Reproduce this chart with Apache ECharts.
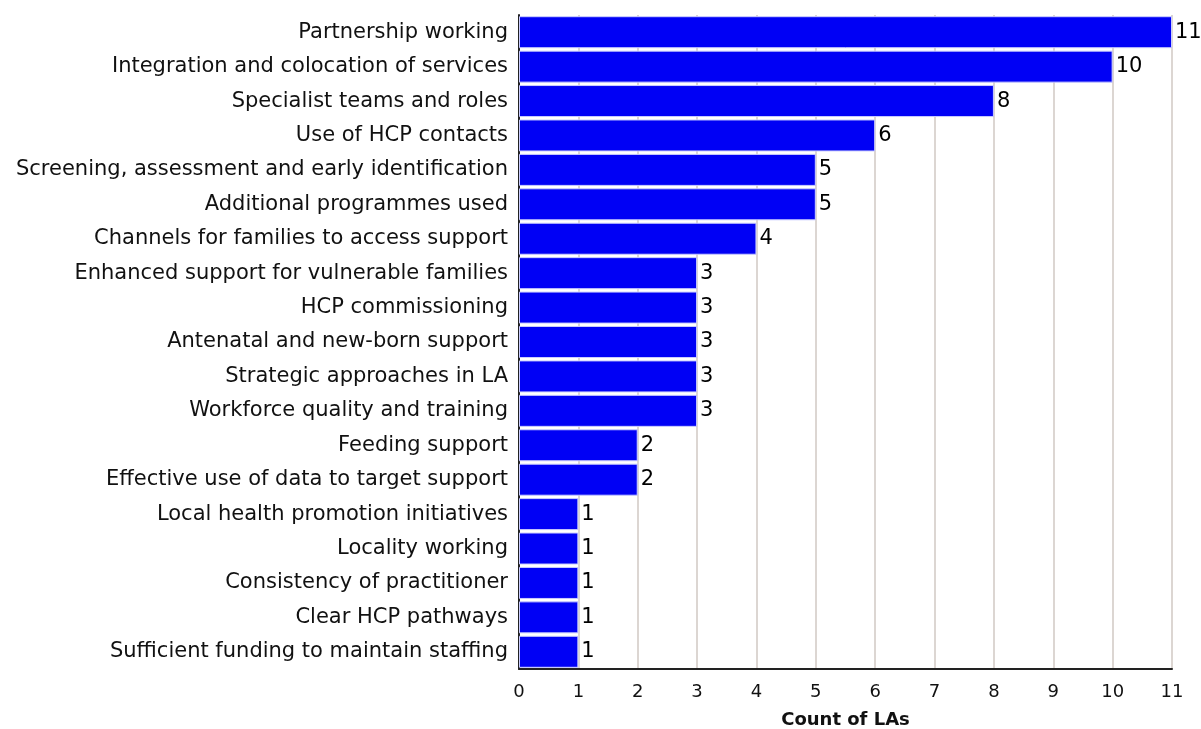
<!DOCTYPE html>
<html>
<head>
<meta charset="utf-8">
<script src="https://cdn.jsdelivr.net/npm/echarts@6/dist/echarts.min.js"></script>
<style>
  html, body { margin: 0; padding: 0; background: #fff; }
  #chart { width: 1201px; height: 729px; }
</style>
</head>
<body>
<div id="chart"></div>
<script>
// Themes reported by local authorities, listed top to bottom
const categories = [
  'Partnership working',
  'Integration and colocation of services',
  'Specialist teams and roles',
  'Use of HCP contacts',
  'Screening, assessment and early identification',
  'Additional programmes used',
  'Channels for families to access support',
  'Enhanced support for vulnerable families',
  'HCP commissioning',
  'Antenatal and new-born support',
  'Strategic approaches in LA',
  'Workforce quality and training',
  'Feeding support',
  'Effective use of data to target support',
  'Local health promotion initiatives',
  'Locality working',
  'Consistency of practitioner',
  'Clear HCP pathways',
  'Sufficient funding to maintain staffing'
];
const counts = [11, 10, 8, 6, 5, 5, 4, 3, 3, 3, 3, 3, 2, 2, 1, 1, 1, 1, 1];
const xTicks = [0, 1, 2, 3, 4, 5, 6, 7, 8, 9, 10, 11];

const chart = echarts.init(document.getElementById('chart'), null, { renderer: 'canvas' });
const font = '"DejaVu Sans", "Open Sans", sans-serif';

chart.setOption({
  animation: false,
  textStyle: { fontFamily: font },
  grid: { left: 519, right: 29, top: 15, bottom: 60, containLabel: false, outerBoundsMode: 'none' },
  xAxis: {
    type: 'value',
    min: xTicks[0],
    max: xTicks[xTicks.length - 1],
    interval: 1,
    name: 'Count of LAs',
    nameLocation: 'middle',
    nameGap: 42,
    nameTextStyle: { fontSize: 18, fontWeight: 'bold', color: '#111', fontFamily: font },
    axisLine: { show: true, lineStyle: { color: '#222', width: 2 } },
    axisTick: { show: false },
    axisLabel: { fontSize: 18, color: '#111', margin: 14, fontFamily: font },
    splitLine: { show: true, lineStyle: { color: '#dcd6d2', width: 2 } }
  },
  yAxis: {
    type: 'category',
    data: categories,
    inverse: true,
    axisLine: { show: true, lineStyle: { color: '#222', width: 2 } },
    axisTick: { show: false },
    axisLabel: { fontSize: 21, color: '#111', margin: 11, fontFamily: font },
    splitLine: { show: false }
  },
  series: [{
    type: 'bar',
    data: counts,
    barCategoryGap: '7%',
    itemStyle: { color: '#0000f5', borderColor: '#c9ccff', borderWidth: 1 },
    label: {
      show: true,
      position: 'right',
      distance: 3,
      fontSize: 21,
      color: '#000',
      fontFamily: font
    }
  }]
});
</script>
</body>
</html>
